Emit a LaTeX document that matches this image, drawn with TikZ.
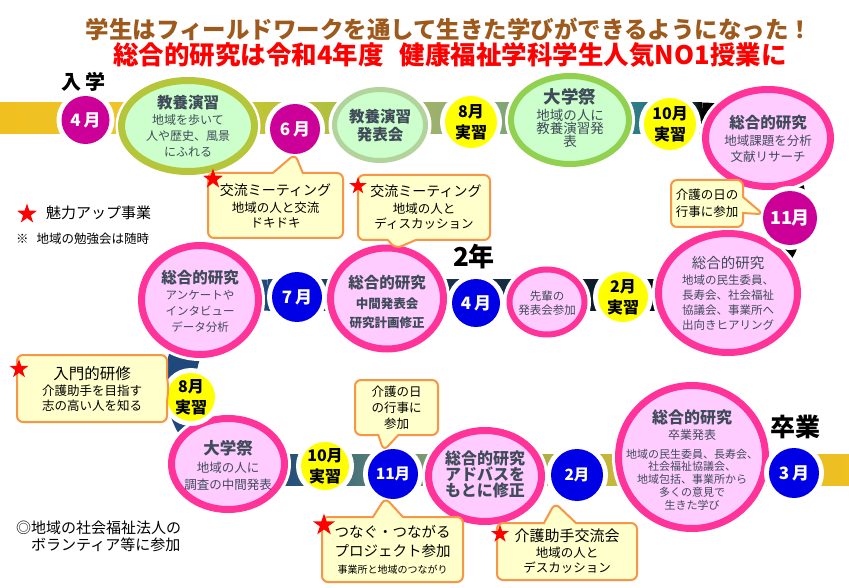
\documentclass[tikz,border=0pt]{standalone}
\usepackage{fontspec}
\setmainfont{Noto Sans CJK JP}
\usetikzlibrary{shapes.geometric,shapes.callouts}
\newcommand{\myfs}[2]{\fontsize{#1}{#2}\selectfont}
\definecolor{mag}{HTML}{CC0099}
\definecolor{mblue}{HTML}{0000E6}
\definecolor{myel}{HTML}{FFFF00}
\definecolor{pinkfill}{HTML}{FFCCFF}
\definecolor{pinkline}{HTML}{FF3399}
\definecolor{gfill}{HTML}{CCFFCC}
\definecolor{gline1}{HTML}{B5C63A}
\definecolor{gline2}{HTML}{B3D39C}
\definecolor{gline3}{HTML}{92D050}
\definecolor{btext}{HTML}{404B5A}
\definecolor{cfill}{HTML}{FFFFCC}
\definecolor{cline}{HTML}{F79646}
\definecolor{tbrown}{HTML}{9E5A1C}
\definecolor{navyb}{HTML}{1F497D}
\definecolor{ta}{HTML}{F0C020}
\definecolor{tb}{HTML}{EEC428}
\definecolor{tc}{HTML}{C0C435}
\definecolor{td}{HTML}{B0C040}
\definecolor{te}{HTML}{9BB070}
\definecolor{tf}{HTML}{7EA478}
\definecolor{tg}{HTML}{5A9080}
\definecolor{th}{HTML}{2C7A84}
\definecolor{ti}{HTML}{183F48}
\definecolor{tj}{HTML}{000000}
\definecolor{ma}{HTML}{1F497D}
\definecolor{mb}{HTML}{1F3A60}
\definecolor{mc}{HTML}{182C45}
\definecolor{md}{HTML}{0E1A2A}
\definecolor{me}{HTML}{000000}
\definecolor{ba}{HTML}{1F497D}
\definecolor{bb}{HTML}{2A5478}
\definecolor{bc}{HTML}{4A7478}
\definecolor{bd}{HTML}{789870}
\definecolor{be}{HTML}{A0A850}
\definecolor{bf}{HTML}{B8B040}
\definecolor{bg}{HTML}{C8B838}
\definecolor{bh}{HTML}{D8B830}
\definecolor{bi}{HTML}{F0C020}
\pgfdeclarehorizontalshading{topband}{100bp}{color(0bp)=(ta); color(25bp)=(ta); color(33.55bp)=(tb); color(43.52bp)=(tc); color(48.5bp)=(td); color(56.34bp)=(te); color(61.32bp)=(tf); color(66.31bp)=(tg); color(70.58bp)=(th); color(74.15bp)=(ti); color(75bp)=(tj); color(100bp)=(tj)}
\pgfdeclarehorizontalshading{midband}{100bp}{color(0bp)=(ma); color(25bp)=(ma); color(34.45bp)=(mb); color(51.73bp)=(mc); color(63.25bp)=(md); color(75bp)=(me); color(100bp)=(me)}
\pgfdeclarehorizontalshading{botband}{100bp}{color(0bp)=(ba); color(25bp)=(ba); color(27.75bp)=(bb); color(32.49bp)=(bc); color(38.08bp)=(bd); color(44.97bp)=(be); color(50.13bp)=(bf); color(55.29bp)=(bg); color(63.9bp)=(bh); color(75bp)=(bi); color(100bp)=(bi)}
\begin{document}
\begin{tikzpicture}[x=1pt,y=-1pt,
 monthc/.style={circle, inner sep=-3pt, outer sep=0pt, minimum size=#1, preaction={draw=white,line width=10pt}, font=\bfseries\myfs{17}{20}, align=center},
 magc/.style={monthc={#1}, fill=mag, text=white},
 bluc/.style={monthc={#1}, fill=mblue, text=white},
 yelc/.style={monthc={#1}, fill=myel, text=black, font=\bfseries\myfs{16}{21}},
 pbub/.style 2 args={ellipse, inner sep=0pt, outer sep=0pt, minimum width=#1, minimum height=#2, fill=pinkfill, draw=pinkline, line width=7pt, preaction={draw=white, line width=13pt}},
 gbub/.style n args={3}{ellipse, inner sep=0pt, outer sep=0pt, minimum width=#1, minimum height=#2, fill=gfill, draw=#3, line width=6pt, preaction={draw=white, line width=12pt}},
 btxt/.style={align=center, inner sep=0pt, text=btext},
 call/.style={rectangle callout, rounded corners=6pt, fill=cfill, draw=cline, line width=2pt, align=center, inner sep=0pt, callout pointer width=#1},
 rstar/.style={star, star points=5, star point ratio=2.6, fill=red, draw=none, inner sep=0pt, minimum size=#1},
 lbl/.style={inner sep=0pt, text=black}
]
\useasboundingbox (0,0) rectangle (849,588);
\fill[white] (0,0) rectangle (849,588);
% road
\shade[shading=topband] (0,102.5) rectangle (702,133.5);
\draw[black, line width=31pt] (702,118) arc[start angle=-90, end angle=90, radius=88.5];
\shade[shading=midband] (268,279.5) rectangle (702,310.5);
\draw[navyb, line width=31pt] (268,295) arc[start angle=-90, end angle=-270, radius=87.5];
\shade[shading=botband] (268,454.5) rectangle (849,485.5);
% bubbles
\node[gbub={133pt}{91pt}{gline1}, line width=7pt] (g1) at (188,126) {};
\node[gbub={91pt}{71pt}{gline2}, line width=5pt] (g2) at (380,125) {};
\node[gbub={118pt}{88pt}{gline3}] (g3) at (570,120) {};
\node[pbub={125pt}{97pt}] (p1) at (768,138) {};
\node[pbub={117pt}{109pt}] (p2) at (200,300) {};
\node[pbub={113pt}{101pt}] (p3) at (387,298.5) {};
\node[pbub={75pt}{65pt}, line width=6pt] (p4) at (547,302) {};
\node[pbub={139pt}{119pt}] (p5) at (728,293) {};
\node[pbub={113pt}{91pt}] (p6) at (228,464) {};
\node[pbub={113pt}{91pt}] (p7) at (485,476) {};
\node[pbub={147pt}{143pt}] (p8) at (692,457) {};
% month circles
\node[magc=48pt] (m4) at (85.5,120) {4\hspace{3pt}月};
\node[magc=50pt] (m6) at (295,129) {6\hspace{3pt}月};
\node[yelc=52pt] (a8) at (471,122) {8月\\実習};
\node[yelc=52pt] (a10) at (670,124) {10月\\実習};
\node[magc=54pt, font=\bfseries\myfs{18}{20}] (m11) at (790,218) {11月};
\node[bluc=50pt] (m7) at (297,297) {7\hspace{3pt}月};
\node[bluc=48pt] (m4b) at (476,303) {4\hspace{3pt}月};
\node[yelc=50pt] (a2) at (623,297) {2月\\実習};
\node[yelc=48pt] (a8b) at (191,397) {8月\\実習};
\node[yelc=48pt] (a10b) at (325,466) {10月\\実習};
\node[bluc=50pt, font=\bfseries\myfs{15.5}{18}] (m11b) at (393,474) {11月};
\node[bluc=52pt, font=\bfseries\myfs{15.5}{18}] (m2) at (577,475) {2月};
\node[bluc=50pt] (m3) at (794,473) {3\hspace{3pt}月};
% bubble texts
\node[btxt, font=\myfs{12}{16}] (g1t) at (188,126) {{\bfseries\myfs{15.5}{16}教養演習}\\地域を歩いて\\人や歴史、風景\\にふれる};
\node[btxt, font=\bfseries\myfs{15.5}{18}] (g2t) at (380,126) {教養演習\\発表会};
\node[btxt, font=\myfs{13.5}{13}] (g3t) at (570,118) {{\bfseries\myfs{17.5}{16}大学祭}\\[2pt]地域の人に\\教養演習発\\表};
\node[btxt, font=\myfs{12.5}{16}] (p1t) at (768,138.5) {{\bfseries\myfs{15.5}{16}総合的研究}\\[1pt]地域課題を分析\\文献リサーチ};
\node[btxt, font=\myfs{11.5}{16}] (p2t) at (200,301) {{\bfseries\myfs{15.5}{16}総合的研究}\\アンケートや\\インタビュー\\データ分析};
\node[btxt, font=\bfseries\myfs{12.5}{19.5}] (p3t) at (387,302.5) {{\myfs{15.5}{19.5}総合的研究}\\中間発表会\\研究計画修正};
\node[btxt, font=\myfs{11.5}{14}] (p4t) at (547,303) {先輩の\\発表会参加};
\node[btxt, font=\myfs{11.5}{15}] (p5t) at (728,293) {{\myfs{14.5}{15}総合的研究}\\[1pt]地域の民生委員、\\長寿会、社会福祉\\協議会、事業所へ\\出向きヒアリング};
\node[btxt, font=\myfs{12.5}{16.5}] (p6t) at (228,465) {{\bfseries\myfs{16.5}{17}大学祭}\\[2pt]地域の人に\\調査の中間発表};
\node[btxt, font=\bfseries\myfs{16}{14}] (p7t) at (485,474) {総合的研究\\アドバスを\\もとに修正};
\node[btxt, font=\myfs{11}{12.8}] (p8t) at (692,460) {{\bfseries\myfs{16}{20}総合的研究}\\[3pt]{\myfs{12}{14}卒業発表}\\[6pt]地域の民生委員、長寿会、\\社会福祉協議会、\\地域包括、事業所から\\多くの意見で\\生きた学び};
% callouts
\coordinate (t7) at (555,503);
\node[call=30pt, minimum width=135pt, minimum height=65pt, callout absolute pointer={(m6.south)}, font=\myfs{12.5}{15}] (c1) at (275.5,205.5) {{\myfs{14}{17}交流ミーティング}\\[2pt]地域の人と交流\\ドキドキ};
\node[call=28pt, minimum width=132pt, minimum height=65pt, callout absolute pointer={(p3.80)}, font=\myfs{12.5}{15.5}] (c2) at (424,207.5) {{\myfs{14}{17}\hspace{4pt}交流ミーティング}\\[1pt]地域の人と\\ディスカッション};
\node[call=16pt, minimum width=72pt, minimum height=47pt, callout absolute pointer={(m11.172)}, font=\myfs{12.5}{17}] (c3) at (707,203.5) {介護の日の\\行事に参加};
\node[call=25pt, minimum width=150pt, minimum height=67pt, callout absolute pointer={(a8b.160)}, font=\myfs{12.5}{15}] (c4) at (92,388.5) {{\myfs{15.5}{18}入門的研修}\\[1pt]介護助手を目指す\\志の高い人を知る};
\node[call=20pt, minimum width=83pt, minimum height=55pt, callout absolute pointer={(m11b.112)}, font=\myfs{12.5}{16}] (c5) at (396.5,407.5) {介護の日\\の行事に\\参加};
\node[call=30pt, minimum width=141pt, minimum height=65pt, callout absolute pointer={(m11b.252)}, font=\myfs{14.5}{19}] (c6) at (392.5,549.5) {つなぐ・つながる\\プロジェクト参加\\[-2pt]{\myfs{10}{13}事業所と地域のつながり}};
\node[call=32pt, minimum width=140pt, minimum height=57pt, callout absolute pointer={(t7)}, font=\myfs{12.5}{15}] (c7) at (567,551.5) {{\myfs{15}{18}介護助手交流会}\\[1pt]地域の人と\\デスカッション};
% stars
\node[rstar=21pt] (s1) at (213,179) {};
\node[rstar=18pt] (s2) at (358,186) {};
\node[rstar=20pt] (s4) at (19,369) {};
\node[rstar=23pt] (s6) at (324,525) {};
\node[rstar=19pt] (s7) at (500,534) {};
\node[rstar=21pt] (ls) at (27,214) {};
% legend and labels
\node[lbl, anchor=west, font=\myfs{15}{18}] (lt) at (46,213) {魅力アップ事業};
\node[lbl, anchor=west, font=\myfs{12.5}{15}] (ln) at (16,239) {※\hspace{8pt}地域の勉強会は随時};
\node[lbl, anchor=north west, align=left, font=\myfs{15}{17}] (foot) at (16,521) {◎地域の社会福祉法人の\\\hspace{15pt}ボランティア等に参加};
\node[lbl, font=\bfseries\myfs{20}{24}] (nyu) at (83,82) {入\hspace{4pt}学};
\node[lbl, font=\bfseries\myfs{26}{28}] (y2) at (474,257) {2年};
\node[lbl, font=\bfseries\myfs{25}{28}] (sotsu) at (795,427) {卒業};
\node[lbl, text=tbrown, font=\bfseries\myfs{23.5}{28}] (title1) at (449,29) {学生はフィールドワークを通して生きた学びができるようになった！};
\node[lbl, text=red, font=\bfseries\myfs{25.5}{28}] (title2) at (450,55) {総合的研究は令和4年度\hspace{16pt}健康福祉学科学生人気NO1授業に};
\end{tikzpicture}
\end{document}
